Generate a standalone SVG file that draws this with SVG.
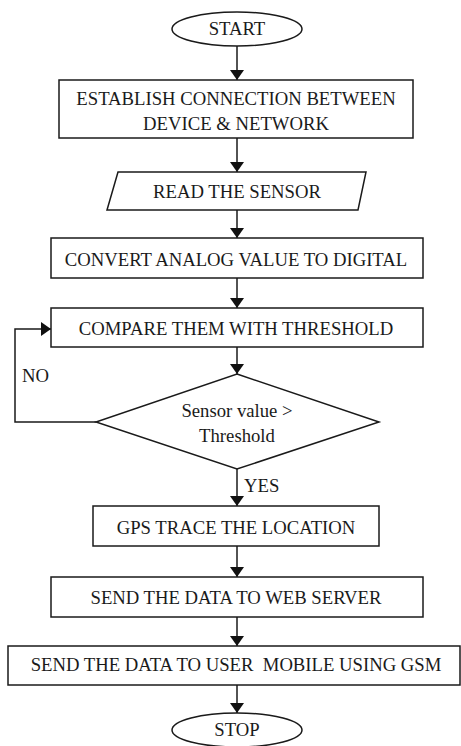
<svg xmlns="http://www.w3.org/2000/svg" width="461" height="746" viewBox="0 0 461 746">
  <style>
    .shape { fill: #ffffff; stroke: #1a1a1a; stroke-width: 1.5; }
    .label { font-family: "Liberation Serif", "Times New Roman", serif; font-size: 18.7px; fill: #1a1a1a; text-anchor: middle; }
    .side { text-anchor: start; }
    .flow { fill: none; stroke: #1a1a1a; stroke-width: 1.5; }
  </style>
  <defs>
    <marker id="head" viewBox="0 0 10 14" refX="10" refY="7" markerWidth="10" markerHeight="14" markerUnits="userSpaceOnUse" orient="auto">
      <path d="M0,0 L10,7 L0,14 Z" fill="#111111"/>
    </marker>
  </defs>
  <rect width="461" height="746" fill="#ffffff"/>

  <g id="connectors">
    <line class="flow" x1="237" y1="46" x2="237" y2="80" marker-end="url(#head)"/>
    <line class="flow" x1="237" y1="138" x2="237" y2="172" marker-end="url(#head)"/>
    <line class="flow" x1="237" y1="210" x2="237" y2="238" marker-end="url(#head)"/>
    <line class="flow" x1="237" y1="278" x2="237" y2="308" marker-end="url(#head)"/>
    <line class="flow" x1="237" y1="347" x2="237" y2="374" marker-end="url(#head)"/>
    <polyline class="flow" points="96,422 15,422 15,329 51,329" marker-end="url(#head)"/>
    <line class="flow" x1="237" y1="469" x2="237" y2="506" marker-end="url(#head)"/>
    <line class="flow" x1="237" y1="546" x2="237" y2="577" marker-end="url(#head)"/>
    <line class="flow" x1="237" y1="617" x2="237" y2="646" marker-end="url(#head)"/>
    <line class="flow" x1="237" y1="685" x2="237" y2="713" marker-end="url(#head)"/>
    <text class="label side" x="22" y="382">NO</text>
    <text class="label side" x="244" y="492">YES</text>
  </g>

  <g id="start">
    <ellipse class="shape" cx="237" cy="29" rx="65" ry="17"/>
    <text class="label" x="237" y="35">START</text>
  </g>

  <g id="connect">
    <rect class="shape" x="59" y="80" width="354" height="58"/>
    <text class="label" x="236" y="105">ESTABLISH CONNECTION BETWEEN</text>
    <text class="label" x="236" y="130">DEVICE &amp; NETWORK</text>
  </g>

  <g id="read">
    <polygon class="shape" points="118,172 366,172 358,210 107,210"/>
    <text class="label" x="237" y="198">READ THE SENSOR</text>
  </g>

  <g id="convert">
    <rect class="shape" x="51" y="238" width="372" height="40"/>
    <text class="label" x="236" y="266">CONVERT ANALOG VALUE TO DIGITAL</text>
  </g>

  <g id="compare">
    <rect class="shape" x="51" y="308" width="372" height="39"/>
    <text class="label" x="236" y="335">COMPARE THEM WITH THRESHOLD</text>
  </g>

  <g id="decision">
    <polygon class="shape" points="237,374 379,422 237,469 96,422"/>
    <text class="label" x="237" y="417">Sensor value &gt;</text>
    <text class="label" x="237" y="442">Threshold</text>
  </g>

  <g id="gps">
    <rect class="shape" x="93" y="506" width="286" height="40"/>
    <text class="label" x="236" y="534">GPS TRACE THE LOCATION</text>
  </g>

  <g id="web">
    <rect class="shape" x="51" y="577" width="372" height="40"/>
    <text class="label" x="236" y="604">SEND THE DATA TO WEB SERVER</text>
  </g>

  <g id="gsm">
    <rect class="shape" x="8" y="646" width="452" height="39"/>
    <text class="label" x="236" y="671" xml:space="preserve">SEND THE DATA TO USER  MOBILE USING GSM</text>
  </g>

  <g id="stop">
    <ellipse class="shape" cx="237" cy="730" rx="65" ry="17"/>
    <text class="label" x="237" y="736">STOP</text>
  </g>
</svg>
